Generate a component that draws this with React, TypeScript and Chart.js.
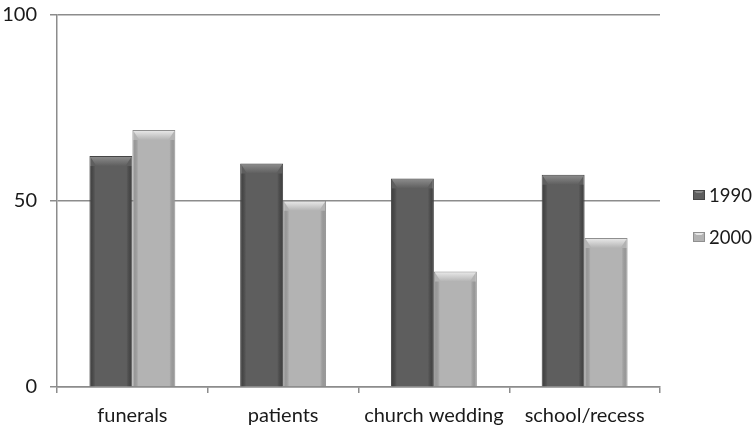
import React, { useEffect, useRef } from "react";
import { Chart, registerables } from "chart.js";

Chart.register(...registerables);

const categories = ["funerals", "patients", "church wedding", "school/recess"];
const series1990 = [62, 60, 56, 57];
const series2000 = [69, 50, 31, 40];
const seriesLabels = ["1990", "2000"];
const yTicks = [0, 50, 100];

const FONT = "Lato, 'Open Sans', sans-serif";
const FSIZE = 20;
const LEGEND_FSIZE = 18.5;

const bevelPlugin = {
  id: "bevel",
  afterDatasetsDraw(chart: any) {
    const ctx = chart.ctx;
    chart.data.datasets.forEach((ds: any, i: number) => {
      const meta = chart.getDatasetMeta(i);
      const hl = ds.bevelLight;
      const sh = ds.bevelDark;
      meta.data.forEach((bar: any) => {
        const p = bar.getProps(["x", "y", "base", "width"], true);
        const l = p.x - p.width / 2 + 1;
        const r = p.x + p.width / 2 - 1;
        const t = p.y + 1;
        const b = p.base;
        const s = 6;
        const h = 9;
        ctx.save();
        const g = ctx.createLinearGradient(0, t, 0, t + h);
        g.addColorStop(0, hl);
        g.addColorStop(1, ds.backgroundColor);
        ctx.fillStyle = g;
        ctx.beginPath();
        ctx.moveTo(l, t);
        ctx.lineTo(r, t);
        ctx.lineTo(r - s, t + h);
        ctx.lineTo(l + s, t + h);
        ctx.closePath();
        ctx.fill();
        const gl = ctx.createLinearGradient(l, 0, l + 5, 0);
        gl.addColorStop(0, sh);
        gl.addColorStop(1, "rgba(0,0,0,0)");
        ctx.fillStyle = gl;
        ctx.fillRect(l, t + h, 5, b - t - h);
        const gr = ctx.createLinearGradient(r, 0, r - 5, 0);
        gr.addColorStop(0, sh);
        gr.addColorStop(1, "rgba(0,0,0,0)");
        ctx.fillStyle = gr;
        ctx.fillRect(r - 5, t + h, 5, b - t - h);
        ctx.restore();
      });
    });
  },
};

const legendPlugin = {
  id: "sideLegend",
  afterDraw(chart: any) {
    const ctx = chart.ctx;
    const area = chart.chartArea;
    const n = chart.data.datasets.length;
    const gap = 42;
    const cy = chart.height / 2 + 2 - ((n - 1) * gap) / 2;
    const bx = area.right + 33;
    ctx.save();
    chart.data.datasets.forEach((ds: any, i: number) => {
      const y = cy + i * gap;
      ctx.fillStyle = ds.backgroundColor;
      ctx.fillRect(bx, y - 5, 12, 10);
      ctx.fillStyle = ds.bevelLight;
      ctx.beginPath();
      ctx.moveTo(bx, y - 5);
      ctx.lineTo(bx + 12, y - 5);
      ctx.lineTo(bx + 8.5, y - 2);
      ctx.lineTo(bx + 3.5, y - 2);
      ctx.closePath();
      ctx.fill();
      ctx.strokeStyle = ds.borderColor;
      ctx.lineWidth = 1;
      ctx.strokeRect(bx + 0.5, y - 4.5, 11, 9);
      ctx.fillStyle = "#1a1a1a";
      ctx.font = `${LEGEND_FSIZE}px ${FONT}`;
      ctx.textBaseline = "middle";
      ctx.textAlign = "left";
      ctx.fillText(ds.label, bx + 16, y + 1);
    });
    ctx.restore();
  },
};

export default function App() {
  const ref = useRef<HTMLCanvasElement>(null);
  useEffect(() => {
    const chart = new Chart(ref.current!, {
      type: "bar",
      data: {
        labels: categories,
        datasets: [
          {
            label: seriesLabels[0],
            data: series1990,
            backgroundColor: "#5e5e5e",
            borderColor: "#454545",
            borderWidth: 1,
            bevelLight: "#8a8a8a",
            bevelDark: "rgba(40,40,40,0.5)",
          } as any,
          {
            label: seriesLabels[1],
            data: series2000,
            backgroundColor: "#b3b3b3",
            borderColor: "#8f8f8f",
            borderWidth: 1,
            bevelLight: "#e6e6e6",
            bevelDark: "rgba(120,120,120,0.4)",
          } as any,
        ],
      },
      options: {
        animation: false,
        responsive: false,
        maintainAspectRatio: false,
        layout: { padding: { top: 14.5, right: 95, left: 0, bottom: 0 } },
        plugins: {
          tooltip: { enabled: false },
          legend: { display: false },
        },
        datasets: {
          bar: { categoryPercentage: 0.57, barPercentage: 1.0 },
        },
        scales: {
          x: {
            grid: {
              offset: true,
              drawOnChartArea: false,
              tickLength: 6,
              color: "#8c8c8c",
              lineWidth: 1.5,
            },
            border: { color: "#8c8c8c", width: 1.5 },
            ticks: {
              color: "#1a1a1a",
              font: { family: FONT, size: FSIZE },
              padding: 11,
              maxRotation: 0,
            },
            afterFit: (s: any) => {
              s.height = 41;
            },
          },
          y: {
            min: 0,
            max: 100,
            afterBuildTicks: (s: any) => {
              s.ticks = yTicks.map((v) => ({ value: v }));
            },
            grid: { color: "#8c8c8c", lineWidth: 1.5, tickLength: 7 },
            border: { color: "#8c8c8c", width: 1.5 },
            ticks: {
              color: "#1a1a1a",
              font: { family: FONT, size: FSIZE, lineHeight: 0.05 },
              padding: 13,
            },
            afterFit: (s: any) => {
              s.width = 57;
            },
          },
        },
      },
      plugins: [bevelPlugin, legendPlugin],
    });
    return () => chart.destroy();
  }, []);
  return (
    <div style={{ position: "fixed", left: 0, top: 0, width: 755, height: 428, background: "#fff" }}>
      <canvas ref={ref} width={755} height={428} style={{ width: 755, height: 428 }} />
    </div>
  );
}
